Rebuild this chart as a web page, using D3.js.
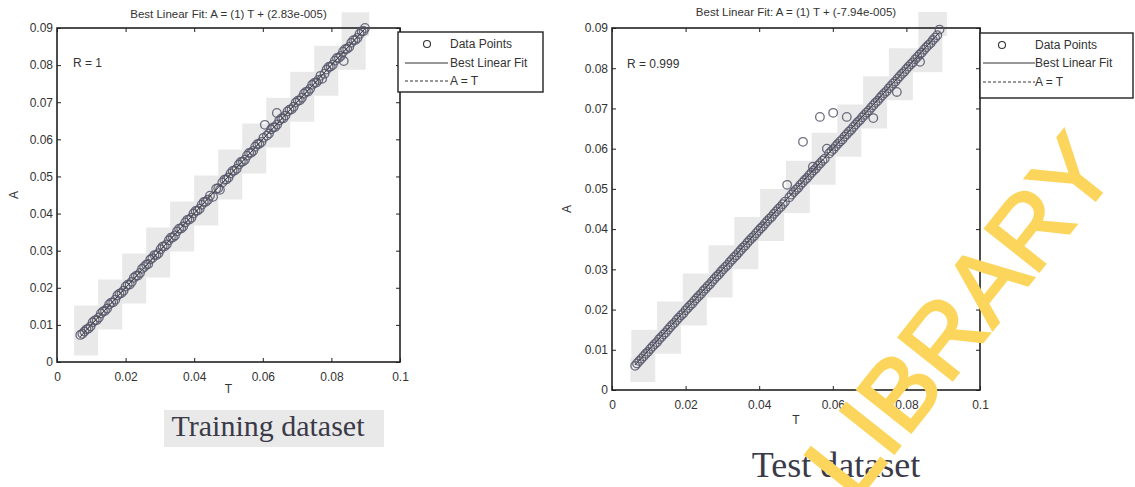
<!DOCTYPE html>
<html>
<head>
<meta charset="utf-8">
<script src="https://cdn.jsdelivr.net/npm/d3@7/dist/d3.min.js"></script>
<style>
  body { margin: 0; background: #fff; }
  svg { display: block; }
</style>
</head>
<body>
<div id="chart"></div>
<script>
// ---- data ----
const xTicks = [0, 0.02, 0.04, 0.06, 0.08, 0.1];
const xTickLabels = ["0", "0.02", "0.04", "0.06", "0.08", "0.1"];
const yTicks = [0, 0.01, 0.02, 0.03, 0.04, 0.05, 0.06, 0.07, 0.08, 0.09];
const yTickLabels = ["0", "0.01", "0.02", "0.03", "0.04", "0.05", "0.06", "0.07", "0.08", "0.09"];
const legendLabels = ["Data Points", "Best Linear Fit", "A = T"];

const trainT = [0.0068, 0.0080, 0.0092, 0.0104, 0.0116, 0.0128, 0.0140, 0.0152, 0.0164, 0.0176,
  0.0188, 0.0200, 0.0212, 0.0224, 0.0236, 0.0248, 0.0260, 0.0272, 0.0284, 0.0296,
  0.0308, 0.0320, 0.0332, 0.0344, 0.0356, 0.0368, 0.0380, 0.0392, 0.0404, 0.0416,
  0.0428, 0.0440, 0.0455, 0.0464, 0.0475, 0.0488, 0.0500, 0.0512, 0.0524, 0.0536,
  0.0548, 0.0560, 0.0572, 0.0584, 0.0596, 0.0606, 0.0612, 0.0624, 0.0636, 0.0641,
  0.0648, 0.0660, 0.0672, 0.0684, 0.0696, 0.0708, 0.0720, 0.0732, 0.0744, 0.0756,
  0.0768, 0.0773, 0.0780, 0.0792, 0.0804, 0.0816, 0.0828, 0.0836, 0.0840, 0.0852,
  0.0864, 0.0876, 0.0888, 0.0898,
  0.0074, 0.0086, 0.0098, 0.0110, 0.0122, 0.0134, 0.0146, 0.0158, 0.0170, 0.0182,
  0.0194, 0.0206, 0.0218, 0.0230, 0.0242, 0.0254, 0.0266, 0.0278, 0.0290, 0.0302,
  0.0314, 0.0326, 0.0338, 0.0350, 0.0362, 0.0374, 0.0386, 0.0398, 0.0410, 0.0422,
  0.0434, 0.0446, 0.0470, 0.0482, 0.0494, 0.0506, 0.0518, 0.0530, 0.0542, 0.0554,
  0.0566, 0.0578, 0.0590, 0.0602, 0.0618, 0.0630, 0.0642, 0.0654, 0.0666, 0.0678,
  0.0690, 0.0702, 0.0714, 0.0726, 0.0738, 0.0750, 0.0762, 0.0786, 0.0798, 0.0810,
  0.0822, 0.0834, 0.0846, 0.0858, 0.0870, 0.0882, 0.0894];
const trainA = [0.0073, 0.0082, 0.0090, 0.0107, 0.0113, 0.0131, 0.0138, 0.0155, 0.0161, 0.0179,
  0.0186, 0.0203, 0.0209, 0.0227, 0.0233, 0.0251, 0.0262, 0.0276, 0.0288, 0.0293,
  0.0311, 0.0317, 0.0335, 0.0341, 0.0359, 0.0365, 0.0383, 0.0389, 0.0407, 0.0413,
  0.0431, 0.0437, 0.0445, 0.0467, 0.0464, 0.0491, 0.0497, 0.0515, 0.0521, 0.0539,
  0.0545, 0.0563, 0.0569, 0.0587, 0.0593, 0.0639, 0.0610, 0.0627, 0.0633, 0.0671,
  0.0651, 0.0657, 0.0675, 0.0681, 0.0699, 0.0705, 0.0723, 0.0729, 0.0747, 0.0753,
  0.0771, 0.0763, 0.0777, 0.0795, 0.0801, 0.0819, 0.0825, 0.0811, 0.0843, 0.0849,
  0.0867, 0.0873, 0.0891, 0.0900,
  0.0076, 0.0088, 0.0096, 0.0112, 0.0120, 0.0136, 0.0144, 0.0160, 0.0168, 0.0184,
  0.0192, 0.0208, 0.0216, 0.0232, 0.0240, 0.0256, 0.0264, 0.0280, 0.0288, 0.0304,
  0.0312, 0.0328, 0.0336, 0.0352, 0.0360, 0.0376, 0.0384, 0.0400, 0.0408, 0.0424,
  0.0432, 0.0448, 0.0468, 0.0484, 0.0492, 0.0508, 0.0516, 0.0532, 0.0540, 0.0556,
  0.0564, 0.0580, 0.0588, 0.0604, 0.0616, 0.0632, 0.0640, 0.0656, 0.0664, 0.0680,
  0.0688, 0.0704, 0.0712, 0.0728, 0.0736, 0.0752, 0.0760, 0.0788, 0.0796, 0.0812,
  0.0820, 0.0836, 0.0844, 0.0860, 0.0868, 0.0884, 0.0892];

const testT = [0.0063, 0.0074, 0.0086, 0.0098, 0.0110, 0.0122, 0.0134, 0.0146, 0.0158, 0.0170,
  0.0182, 0.0194, 0.0206, 0.0218, 0.0230, 0.0242, 0.0254, 0.0266, 0.0278, 0.0290,
  0.0302, 0.0314, 0.0326, 0.0338, 0.0350, 0.0362, 0.0374, 0.0386, 0.0398, 0.0410,
  0.0422, 0.0434, 0.0446, 0.0458, 0.0470, 0.0476, 0.0482, 0.0494, 0.0506, 0.0518,
  0.0519, 0.0530, 0.0542, 0.0546, 0.0554, 0.0565, 0.0566, 0.0578, 0.0584, 0.0590,
  0.0601, 0.0602, 0.0614, 0.0626, 0.0638, 0.0638, 0.0650, 0.0662, 0.0674, 0.0686,
  0.0698, 0.0710, 0.0710, 0.0722, 0.0734, 0.0746, 0.0758, 0.0770, 0.0774, 0.0782,
  0.0794, 0.0806, 0.0818, 0.0830, 0.0837, 0.0842, 0.0854, 0.0866, 0.0878, 0.0890,
  0.0068, 0.0080, 0.0092, 0.0104, 0.0116, 0.0128, 0.0140, 0.0152, 0.0164, 0.0176,
  0.0188, 0.0200, 0.0212, 0.0224, 0.0236, 0.0248, 0.0260, 0.0272, 0.0284, 0.0296,
  0.0308, 0.0320, 0.0332, 0.0344, 0.0356, 0.0368, 0.0380, 0.0392, 0.0404, 0.0416,
  0.0428, 0.0440, 0.0452, 0.0464, 0.0488, 0.0500, 0.0512, 0.0524, 0.0536, 0.0548,
  0.0560, 0.0572, 0.0596, 0.0608, 0.0620, 0.0632, 0.0644, 0.0656, 0.0668, 0.0680,
  0.0692, 0.0704, 0.0716, 0.0728, 0.0740, 0.0752, 0.0764, 0.0776, 0.0788, 0.0800,
  0.0812, 0.0824, 0.0836, 0.0848, 0.0860, 0.0872, 0.0884];
const testA = [0.0060, 0.0072, 0.0084, 0.0095, 0.0108, 0.0119, 0.0132, 0.0143, 0.0156, 0.0167,
  0.0180, 0.0191, 0.0204, 0.0215, 0.0228, 0.0239, 0.0252, 0.0263, 0.0276, 0.0287,
  0.0300, 0.0311, 0.0324, 0.0335, 0.0348, 0.0359, 0.0372, 0.0383, 0.0396, 0.0407,
  0.0420, 0.0431, 0.0444, 0.0455, 0.0468, 0.0510, 0.0479, 0.0492, 0.0503, 0.0516,
  0.0617, 0.0527, 0.0540, 0.0555, 0.0551, 0.0679, 0.0564, 0.0575, 0.0600, 0.0588,
  0.0689, 0.0599, 0.0612, 0.0623, 0.0679, 0.0636, 0.0647, 0.0660, 0.0671, 0.0684,
  0.0695, 0.0676, 0.0708, 0.0719, 0.0732, 0.0743, 0.0756, 0.0767, 0.0741, 0.0780,
  0.0791, 0.0804, 0.0815, 0.0828, 0.0816, 0.0839, 0.0852, 0.0863, 0.0876, 0.0896,
  0.0066, 0.0078, 0.0090, 0.0102, 0.0114, 0.0126, 0.0138, 0.0150, 0.0162, 0.0174,
  0.0186, 0.0198, 0.0210, 0.0222, 0.0234, 0.0246, 0.0258, 0.0270, 0.0282, 0.0294,
  0.0306, 0.0318, 0.0330, 0.0342, 0.0354, 0.0366, 0.0378, 0.0390, 0.0402, 0.0414,
  0.0426, 0.0438, 0.0450, 0.0462, 0.0486, 0.0498, 0.0510, 0.0522, 0.0534, 0.0546,
  0.0558, 0.0570, 0.0594, 0.0606, 0.0618, 0.0630, 0.0642, 0.0654, 0.0666, 0.0678,
  0.0690, 0.0702, 0.0714, 0.0726, 0.0738, 0.0750, 0.0762, 0.0774, 0.0786, 0.0798,
  0.0810, 0.0822, 0.0834, 0.0846, 0.0858, 0.0870, 0.0882];

// gray photocopy band along the diagonal (step corners, in data units)
const bandSteps = [0.005, 0.012, 0.019, 0.026, 0.033, 0.040, 0.047, 0.054, 0.061, 0.068, 0.075, 0.082, 0.091];

const W = 1135, H = 487;
const svg = d3.select('#chart')
  .append('svg')
  .attr('width', W)
  .attr('height', H);

const textColor = '#333';
const axisColor = '#222';
const font = '"Liberation Sans", Arial, sans-serif';

function drawPanel(p) {
  const x = d3.scaleLinear().domain([0, 0.1]).range([p.left, p.right]);
  const y = d3.scaleLinear().domain([0, 0.09]).range([p.bottom, p.top]);

  const g = svg.append('g');

  // band
  g.append('path')
    .datum(bandSteps)
    .attr('d', d3.line().x(d => x(d)).y(d => y(d)).curve(d3.curveStep))
    .attr('fill', 'none')
    .attr('stroke', '#e3e3e3')
    .attr('stroke-width', 24)
    .attr('opacity', 0.8);

  // axes
  const fmt = (labels, ticks) => d => labels[ticks.indexOf(d)];
  const styleAxis = sel => {
    sel.select('.domain').remove();
    sel.selectAll('line').attr('stroke', axisColor);
    sel.selectAll('text')
      .attr('fill', textColor)
      .style('font-family', font)
      .style('font-size', '12px');
  };

  g.append('g')
    .attr('transform', `translate(0,${p.bottom})`)
    .call(d3.axisBottom(x).tickValues(xTicks).tickSize(-4).tickPadding(10)
      .tickFormat(fmt(xTickLabels, xTicks)))
    .call(styleAxis);
  g.append('g')
    .attr('transform', `translate(${p.left},0)`)
    .call(d3.axisLeft(y).tickValues(yTicks).tickSize(-4).tickPadding(4)
      .tickFormat(fmt(yTickLabels, yTicks)))
    .call(styleAxis);
  g.append('g')
    .attr('transform', `translate(0,${p.top})`)
    .call(d3.axisTop(x).tickValues(xTicks).tickSize(-4).tickFormat(''))
    .call(styleAxis);
  g.append('g')
    .attr('transform', `translate(${p.right},0)`)
    .call(d3.axisRight(y).tickValues(yTicks).tickSize(-4).tickFormat(''))
    .call(styleAxis);

  g.append('rect')
    .attr('x', p.left)
    .attr('y', p.top)
    .attr('width', p.right - p.left)
    .attr('height', p.bottom - p.top)
    .attr('fill', 'none')
    .attr('stroke', axisColor)
    .attr('stroke-width', 1.6);

  // points
  const pts = p.T.map((t, i) => ({ t, a: p.A[i] }));
  g.append('g')
    .selectAll('circle')
    .data(pts)
    .join('circle')
    .attr('cx', d => x(d.t))
    .attr('cy', d => y(d.a))
    .attr('r', 4.3)
    .attr('fill', 'none')
    .attr('stroke', '#55556a')
    .attr('stroke-width', 1.3)
    .attr('opacity', 0.85);

  // fit line and A = T
  const tMin = d3.min(p.T), tMax = d3.max(p.T);
  g.append('line')
    .attr('x1', x(tMin)).attr('y1', y(p.slope * tMin + p.intercept))
    .attr('x2', x(tMax)).attr('y2', y(p.slope * tMax + p.intercept))
    .attr('stroke', '#444')
    .attr('stroke-width', 1);
  g.append('line')
    .attr('x1', x(tMin)).attr('y1', y(tMin))
    .attr('x2', x(tMax)).attr('y2', y(tMax))
    .attr('stroke', '#444')
    .attr('stroke-dasharray', '3,2')
    .attr('stroke-width', 1);

  // texts
  g.append('text')
    .attr('x', (p.left + p.right) / 2)
    .attr('y', p.titleY)
    .attr('text-anchor', 'middle')
    .attr('fill', textColor)
    .style('font-family', font)
    .style('font-size', '11.5px')
    .text(p.title);

  g.append('text')
    .attr('x', p.left + p.rDx)
    .attr('y', p.rY)
    .attr('fill', textColor)
    .style('font-family', font)
    .style('font-size', '12px')
    .text(p.rText);

  g.append('text')
    .attr('transform', `translate(${p.aLabelX},${(p.top + p.bottom) / 2}) rotate(-90)`)
    .attr('text-anchor', 'middle')
    .attr('fill', textColor)
    .style('font-family', font)
    .style('font-size', '12px')
    .text('A');

  g.append('text')
    .attr('x', (p.left + p.right) / 2)
    .attr('y', p.tLabelY)
    .attr('text-anchor', 'middle')
    .attr('fill', textColor)
    .style('font-family', font)
    .style('font-size', '12px')
    .text('T');

  // legend
  const lg = p.legend;
  g.append('rect')
    .attr('x', lg.x).attr('y', lg.y)
    .attr('width', lg.w).attr('height', lg.h)
    .attr('fill', '#fff')
    .attr('stroke', axisColor)
    .attr('stroke-width', 1.4);

  legendLabels.forEach((label, i) => {
    const ly = lg.rows[i];
    if (i === 0) {
      g.append('circle')
        .attr('cx', lg.mark).attr('cy', ly).attr('r', 3.5)
        .attr('fill', 'none').attr('stroke', '#333').attr('stroke-width', 1.1);
    } else {
      g.append('line')
        .attr('x1', lg.l1).attr('x2', lg.l2)
        .attr('y1', ly).attr('y2', ly)
        .attr('stroke', '#333')
        .attr('stroke-width', 1)
        .attr('stroke-dasharray', i === 2 ? '3,2' : null);
    }
    g.append('text')
      .attr('x', lg.tx)
      .attr('y', ly + 4)
      .attr('fill', textColor)
      .style('font-family', font)
      .style('font-size', '12px')
      .text(label);
  });

  // caption under the plot
  if (p.capBox) {
    g.append('rect')
      .attr('x', p.capBox[0]).attr('y', p.capBox[1])
      .attr('width', p.capBox[2]).attr('height', p.capBox[3])
      .attr('fill', '#e9e9e9');
  }
  g.append('text')
    .attr('x', p.capX)
    .attr('y', p.capY)
    .attr('text-anchor', 'middle')
    .attr('fill', '#3a3a48')
    .style('font-family', '"Liberation Serif", "DejaVu Serif", serif')
    .style('font-size', p.capSize)
    .text(p.caption);
}

drawPanel({
  left: 57, right: 400, top: 28, bottom: 362,
  T: trainT, A: trainA, slope: 1, intercept: 2.83e-5,
  title: 'Best Linear Fit:  A = (1) T + (2.83e-005)', titleY: 18,
  rText: 'R = 1', rDx: 16, rY: 67,
  aLabelX: 18, tLabelY: 393,
  legend: { x: 398, y: 32, w: 145, h: 60, rows: [44, 63, 81], mark: 427, l1: 405, l2: 448, tx: 450 },
  caption: 'Training dataset', capX: 268, capY: 436, capSize: '30px',
  capBox: [164, 410, 220, 37]
});

drawPanel({
  left: 612, right: 980, top: 28, bottom: 390,
  T: testT, A: testA, slope: 1, intercept: -7.94e-5,
  title: 'Best Linear Fit:  A = (1) T + (-7.94e-005)', titleY: 16,
  rText: 'R = 0.999', rDx: 15, rY: 68,
  aLabelX: 571, tLabelY: 424,
  legend: { x: 980, y: 33, w: 153, h: 65, rows: [45, 63, 82], mark: 1002, l1: 983, l2: 1035, tx: 1035 },
  caption: 'Test dataset', capX: 836, capY: 477, capSize: '36px'
});

// yellow watermark
svg.append('text')
  .attr('transform', 'translate(854,504) rotate(-51.5)')
  .attr('text-anchor', 'start')
  .attr('fill', '#fcd55c')
  .attr('stroke', '#fcd55c')
  .attr('stroke-width', 2.5)
  .style('font-family', font)
  .style('font-size', '100px')
  .text('LIBRARY');
</script>
</body>
</html>
